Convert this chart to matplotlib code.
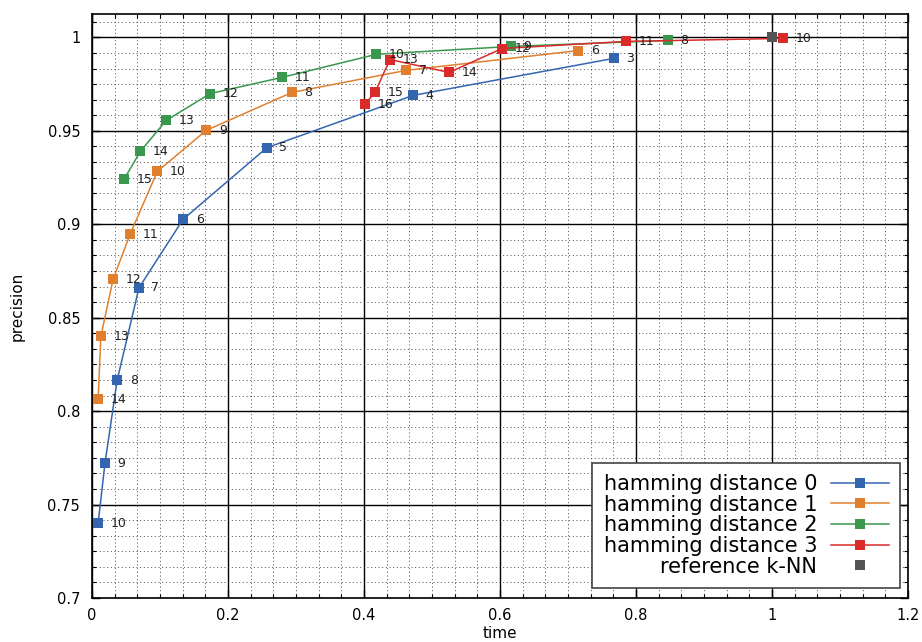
import matplotlib
matplotlib.use("Agg")
import matplotlib.pyplot as plt
from matplotlib.ticker import MultipleLocator, FixedLocator

# ---- data ----
h0_time = [0.009, 0.019, 0.037, 0.069, 0.134, 0.257, 0.472, 0.767]
h0_prec = [0.740, 0.772, 0.8166, 0.866, 0.9027, 0.941, 0.969, 0.9888]
h0_lab = ["10", "9", "8", "7", "6", "5", "4", "3"]

h1_time = [0.009, 0.013, 0.031, 0.056, 0.096, 0.168, 0.294, 0.462, 0.715]
h1_prec = [0.8064, 0.840, 0.8706, 0.8947, 0.9283, 0.9503, 0.9706, 0.9824, 0.993]
h1_lab = ["14", "13", "12", "11", "10", "9", "8", "7", "6"]

h2_time = [0.047, 0.071, 0.109, 0.174, 0.279, 0.418, 0.616, 0.847]
h2_prec = [0.924, 0.939, 0.9556, 0.970, 0.9786, 0.991, 0.9952, 0.9984]
h2_lab = ["15", "14", "13", "12", "11", "10", "9", "8"]

h3_time = [0.401, 0.416, 0.438, 0.525, 0.603, 0.785, 1.016]
h3_prec = [0.9642, 0.9706, 0.9882, 0.9813, 0.9941, 0.9979, 0.9995]
h3_lab = ["16", "15", "13", "14", "12", "11", "10"]

ref_time = [1.0]
ref_prec = [1.0]

series_names = ["hamming distance 0", "hamming distance 1",
                "hamming distance 2", "hamming distance 3"]
colors = ["#3466b0", "#e0802f", "#3a974e", "#da2a2a"]
ref_color = "#555555"

xticks = [0, 0.2, 0.4, 0.6, 0.8, 1.0, 1.2]
xticklabels = ["0", "0.2", "0.4", "0.6", "0.8", "1", "1.2"]
yticks = [0.7, 0.75, 0.8, 0.85, 0.9, 0.95, 1.0]
yticklabels = ["0.7", "0.75", "0.8", "0.85", "0.9", "0.95", "1"]

# ---- figure ----
fig = plt.figure(figsize=(9.22, 6.42), dpi=100)
ax = fig.add_axes([0.0998, 0.0685, 0.8852, 0.9095])

ax.set_xlim(0, 1.2)
ax.set_ylim(0.7, 1.0125)

# grid
ax.xaxis.set_major_locator(FixedLocator(xticks))
ax.yaxis.set_major_locator(FixedLocator(yticks))
ax.xaxis.set_minor_locator(MultipleLocator(0.2 / 6))
ax.yaxis.set_minor_locator(MultipleLocator(0.05 / 6))
ax.set_xticklabels(xticklabels)
ax.set_yticklabels(yticklabels)
ax.grid(which="major", color="black", linewidth=1.0, linestyle="-")
ax.grid(which="minor", color="#333333", linewidth=0.6, linestyle=(0, (1.2, 3.2)))
ax.set_axisbelow(True)

ax.tick_params(which="both", direction="in", top=True, right=True,
               colors="black", labelsize=10.5)
ax.tick_params(axis="x", which="major", pad=7)
ax.tick_params(axis="y", which="major", pad=8.5)
ax.tick_params(which="major", length=6, width=1)
ax.tick_params(which="minor", length=3, width=0.8)
for s in ax.spines.values():
    s.set_linewidth(1.2)
    s.set_color("black")

all_t = [h0_time, h1_time, h2_time, h3_time]
all_p = [h0_prec, h1_prec, h2_prec, h3_prec]
all_l = [h0_lab, h1_lab, h2_lab, h3_lab]

handles = []
for t, p, labs, c, name in zip(all_t, all_p, all_l, colors, series_names):
    h, = ax.plot(t, p, color=c, linewidth=1.1, marker="s", markersize=6.5,
                 markeredgewidth=0, label=name, zorder=3)
    handles.append(h)
    for xi, yi, lb in zip(t, p, labs):
        ax.annotate(lb, (xi, yi), xytext=(9, 0), textcoords="offset points",
                    ha="left", va="center", fontsize=9, color="#222222",
                    zorder=4)

hr, = ax.plot(ref_time, ref_prec, linestyle="none", marker="s",
              markersize=6.5, markeredgewidth=0, color=ref_color,
              label="reference k-NN", zorder=3)
handles.append(hr)

leg = ax.legend(handles=handles, loc="lower right",
                bbox_to_anchor=(0.990, 0.017), borderaxespad=0,
                fontsize=15, markerfirst=False, handlelength=2.75,
                labelspacing=0.03, frameon=True, fancybox=False,
                borderpad=0.55, handletextpad=0.68)
leg.get_frame().set_edgecolor("#444444")
leg.get_frame().set_linewidth(1.2)
leg.get_frame().set_alpha(1)
for t in leg.get_texts():
    t.set_ha("right")
leg._legend_box.align = "right"

ax.set_xlabel("time", fontsize=11)
ax.set_ylabel("precision", fontsize=11)
ax.xaxis.set_label_coords(0.5, -0.048)
ax.yaxis.set_label_coords(-0.082, 0.5)

fig.savefig("out.png", dpi=100)
